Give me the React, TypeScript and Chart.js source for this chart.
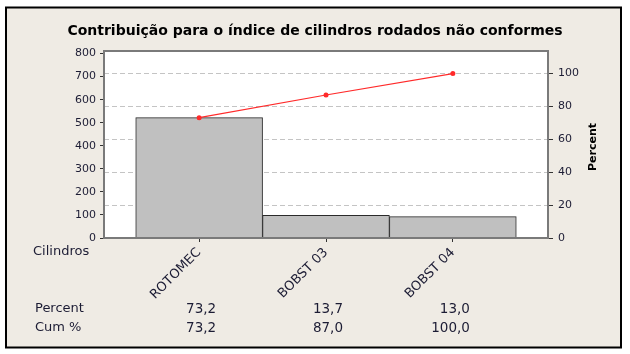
import React, { useEffect, useRef } from 'react';
import { Chart, registerables } from 'chart.js';

Chart.register(...registerables);

const chartTitle = 'Contribuição para o índice de cilindros rodados não conformes';
const axisName = 'Cilindros';
const categories = ['ROTOMEC', 'BOBST 03', 'BOBST 04'];
const counts = [522, 98, 93];
const percents = [73.2, 13.7, 13.0];
const cumPercents = [73.2, 87.0, 100.0];
const leftTicks = [0, 100, 200, 300, 400, 500, 600, 700, 800];
const rightTicks = [0, 20, 40, 60, 80, 100];
const leftMax = 811;
const total = counts.reduce((a, b) => a + b, 0);
const rightMax = (leftMax / total) * 100;

const FONT = "'DejaVu Sans', sans-serif";
const BG = '#EFEBE4';
const TXT = '#1c1c34';

const fmt = (v: number) => v.toFixed(1).replace('.', ',');

const deco = {
  id: 'deco',
  beforeDraw(chart: any) {
    const { ctx, chartArea: a } = chart;
    ctx.save();
    ctx.fillStyle = '#ffffff';
    ctx.fillRect(0, 0, chart.width, chart.height);
    ctx.fillStyle = BG;
    ctx.fillRect(6, 7.5, 615, 340);
    ctx.fillStyle = '#ffffff';
    ctx.fillRect(a.left, a.top, a.right - a.left, a.bottom - a.top);
    ctx.restore();
  },
  afterDraw(chart: any) {
    const { ctx, chartArea: a } = chart;
    const xs = chart.scales.x;
    ctx.save();
    ctx.strokeStyle = '#000000';
    ctx.lineWidth = 2;
    ctx.strokeRect(6, 7.5, 615, 340);
    ctx.strokeStyle = '#7a7a7a';
    ctx.lineWidth = 2;
    ctx.strokeRect(a.left, a.top, a.right - a.left, a.bottom - a.top);
    ctx.fillStyle = '#000000';
    ctx.font = `bold 14px ${FONT}`;
    ctx.textAlign = 'center';
    ctx.textBaseline = 'middle';
    ctx.fillText(chartTitle, 315, 31);
    ctx.save();
    ctx.translate(593, 147);
    ctx.rotate(-Math.PI / 2);
    ctx.font = `bold 11px ${FONT}`;
    ctx.fillText('Percent', 0, 0);
    ctx.restore();
    ctx.fillStyle = TXT;
    ctx.font = `13px ${FONT}`;
    ctx.textAlign = 'left';
    ctx.fillText(axisName, 33, 252);
    ctx.fillText('Percent', 35, 309);
    ctx.fillText('Cum %', 35, 328);
    ctx.textAlign = 'right';
    ctx.font = `13.5px ${FONT}`;
    categories.forEach((_, i) => {
      const px = xs.getPixelForValue(i) + 17;
      ctx.fillText(fmt(percents[i]), px, 309);
      ctx.fillText(fmt(cumPercents[i]), px, 328);
    });
    ctx.restore();
  },
};

export default function App() {
  const ref = useRef<HTMLCanvasElement>(null);
  useEffect(() => {
    if (!ref.current) return;
    const chart = new Chart(ref.current, {
      type: 'bar',
      data: {
        datasets: [
          {
            type: 'line',
            data: cumPercents.map((v, i) => ({ x: i, y: v })),
            yAxisID: 'y1',
            borderColor: '#ff2a2a',
            backgroundColor: '#ff2a2a',
            borderWidth: 1.2,
            pointRadius: 2.5,
            pointBorderWidth: 0,
            order: 0,
          } as any,
          {
            type: 'bar',
            data: counts.map((v, i) => ({ x: i, y: v })),
            yAxisID: 'y',
            backgroundColor: '#c0c0c0',
            borderColor: '#2a2a2a',
            borderWidth: 1,
            barPercentage: 1,
            categoryPercentage: 1,
            order: 1,
          } as any,
        ],
      },
      options: {
        responsive: false,
        animation: false,
        devicePixelRatio: 1,
        layout: { padding: { top: 51, left: 0, right: 30, bottom: 0 } },
        plugins: { legend: { display: false }, tooltip: { enabled: false }, title: { display: false } },
        scales: {
          x: {
            type: 'linear',
            min: -0.75,
            max: 2.75,
            offset: false,
            afterBuildTicks: (s: any) => { s.ticks = categories.map((_, i) => ({ value: i })); },
            afterFit: (s: any) => { s.height = 116; },
            ticks: {
              autoSkip: false,
              minRotation: 45,
              maxRotation: 45,
              padding: 3,
              color: TXT,
              font: { family: FONT, size: 13 },
              callback: (v: any) => categories[Number(v)] ?? '',
            },
            grid: { display: true, drawOnChartArea: false, drawTicks: true, tickLength: 4, color: '#333', offset: false },
            border: { display: false },
          },
          y: {
            type: 'linear',
            position: 'left',
            min: 0,
            max: leftMax,
            afterBuildTicks: (s: any) => { s.ticks = leftTicks.map((v) => ({ value: v })); },
            afterFit: (s: any) => { s.width = 104; },
            ticks: { padding: 4, color: TXT, font: { family: FONT, size: 11 } },
            grid: { display: true, drawOnChartArea: false, drawTicks: true, tickLength: 4, color: '#333' },
            border: { display: false },
          },
          y1: {
            type: 'linear',
            position: 'right',
            min: 0,
            max: rightMax,
            afterBuildTicks: (s: any) => { s.ticks = rightTicks.map((v) => ({ value: v })); },
            afterFit: (s: any) => { s.width = 52; },
            ticks: { padding: 5, color: TXT, font: { family: FONT, size: 11 } },
            grid: {
              display: true,
              drawOnChartArea: true,
              drawTicks: true,
              tickLength: 5,
              color: '#c4c4c4',
              tickColor: '#333',
              tickBorderDash: [],
              lineWidth: 1,
            },
            border: { display: false, dash: [5, 3] },
          },
        },
      },
      plugins: [deco],
    });
    return () => chart.destroy();
  }, []);
  return (
    <div style={{ position: 'fixed', left: 0, top: 0, width: 630, height: 354 }}>
      <canvas ref={ref} width={630} height={354} style={{ display: 'block' }} />
    </div>
  );
}
